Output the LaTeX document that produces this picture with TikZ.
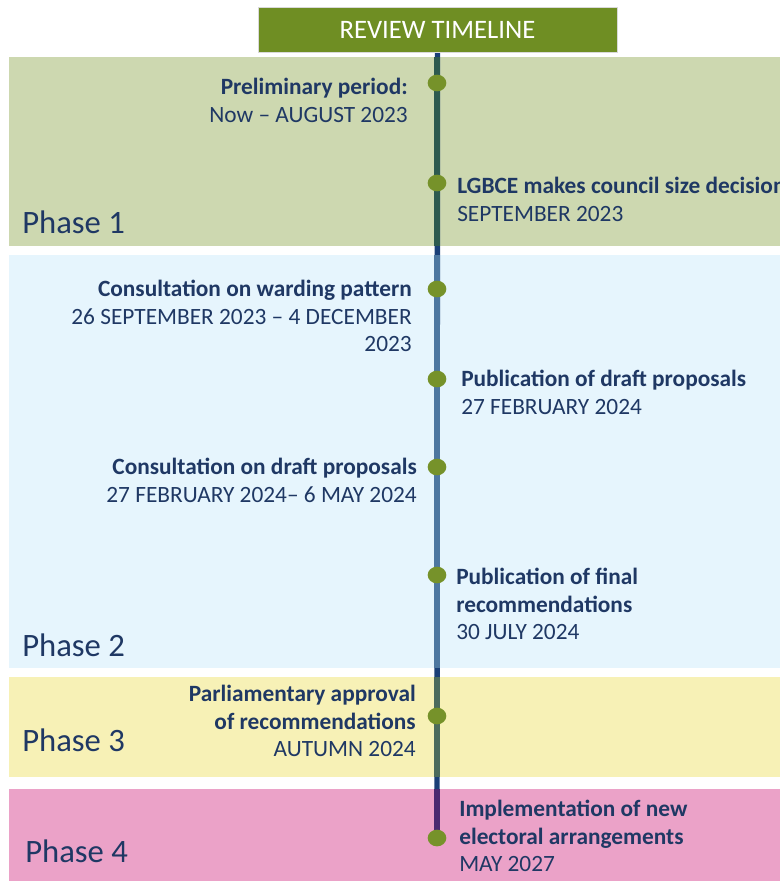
\documentclass[tikz,border=0pt]{standalone}
\usepackage{fontspec}
\setmainfont{Carlito}
\usepackage{xcolor}
\usetikzlibrary{shapes.geometric, positioning, backgrounds}

\definecolor{navytext}{HTML}{1F3864}
\definecolor{navyline}{HTML}{1A3F77}
\definecolor{headgreen}{HTML}{6F8E23}
\definecolor{dotgreen}{HTML}{76922A}
\definecolor{phaseone}{HTML}{CDD8B0}
\definecolor{phasetwo}{HTML}{E6F5FD}
\definecolor{phasethree}{HTML}{F7F1B6}
\definecolor{phasefour}{HTML}{EBA2C8}
\definecolor{lineone}{HTML}{2D5A4F}
\definecolor{linetwo}{HTML}{4D77A0}
\definecolor{linethree}{HTML}{4C6B5C}
\definecolor{linefour}{HTML}{4A2A70}

\begin{document}
\begin{tikzpicture}[x=0.75pt, y=-0.75pt,
    dot/.style={ellipse, fill=dotgreen, minimum width=14pt, minimum height=12.5pt, inner sep=0pt},
    evtext/.style={font=\fontsize{17.5}{20.6}\selectfont, text=navytext, inner sep=0pt},
    phase/.style={font=\fontsize{24.5}{28}\selectfont, text=navytext, anchor=west, inner sep=0pt},
    axis/.style={line width=4pt}]
    \useasboundingbox (0,0) rectangle (780,881);

    % Title
    \node[fill=headgreen, draw=white!85!black, minimum width=269pt, minimum height=33.75pt,
          text=white, font=\fontsize{20}{24}\selectfont, inner sep=0pt] (title) at (437.5,29.5) {REVIEW TIMELINE};

    % Milestones
    \foreach \n/\y in {1/83,2/183,3/289,4/379,5/467,6/575,7/716,8/838} {
        \node[dot] (d\n) at (437,\y) {};
    }

    % Phase bands and the time axis
    \begin{scope}[on background layer]
        \fill[phaseone] (9,57) rectangle (780,246);
        \fill[phasetwo] (9,255) rectangle (780,668);
        \fill[phasethree] (9,677) rectangle (780,777);
        \fill[phasefour] (9,789) rectangle (780,881);
        \draw[axis, navyline] (title.south) -- (d8.center);
        \draw[axis, lineone] (437,57) -- (437,246);
        \draw[axis, linetwo] (437,255) -- (437,668);
        \draw[axis, linethree] (437,677) -- (437,777);
        \draw[axis, linefour] (437,789) -- (d8.center);
    \end{scope}

    % Phase labels
    \node[phase] (p1) at (22,222) {Phase 1};
    \node[phase] (p2) at (22,645) {Phase 2};
    \node[phase] (p3) at (22,740) {Phase 3};
    \node[phase] (p4) at (25,851) {Phase 4};

    % Left hand events
    \node[evtext, anchor=north east, align=right] (e1) at (408,78)
        {\textbf{Preliminary period:}\\Now – AUGUST 2023};
    \node[evtext, anchor=north east, align=right] (e3) at (412,280)
        {\textbf{Consultation on warding pattern}\\26 SEPTEMBER 2023 – 4 DECEMBER\\2023};
    \node[evtext, anchor=north east, align=right] (e5) at (417,458)
        {\textbf{Consultation on draft proposals}\\27 FEBRUARY 2024– 6 MAY 2024};
    \node[evtext, anchor=north east, align=right] (e7) at (416,685)
        {\textbf{Parliamentary approval}\\\textbf{of recommendations}\\AUTUMN 2024};

    % Right hand events
    \node[evtext, anchor=north west, align=left] (e2) at (457,177)
        {\textbf{LGBCE makes council size decision}\\SEPTEMBER 2023};
    \node[evtext, anchor=north west, align=left] (e4) at (461,370)
        {\textbf{Publication of draft proposals}\\27 FEBRUARY 2024};
    \node[evtext, anchor=north west, align=left] (e6) at (456,568)
        {\textbf{Publication of final}\\\textbf{recommendations}\\30 JULY 2024};
    \node[evtext, anchor=north west, align=left] (e8) at (459,800)
        {\textbf{Implementation of new}\\\textbf{electoral arrangements}\\MAY 2027};
\end{tikzpicture}
\end{document}
